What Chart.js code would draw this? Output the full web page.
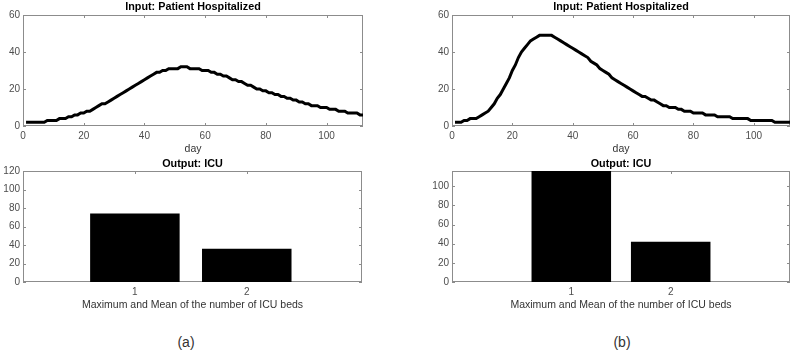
<!DOCTYPE html>
<html>
<head>
<meta charset="utf-8">
<script src="https://cdn.jsdelivr.net/npm/chart.js@4.4.1/dist/chart.umd.min.js"></script>
<style>
  html, body { margin: 0; padding: 0; background: #fff; overflow: hidden; }
  body { width: 793px; height: 352px; position: relative; font-family: "Liberation Sans", Arial, sans-serif; }
  canvas { position: absolute; }
  .cap { position: absolute; font-size: 14px; color: #333; transform: translate(-50%, -50%); }
</style>
</head>
<body>
<canvas id="lineA" width="380" height="160" style="left:0;top:0"></canvas>
<canvas id="lineB" width="364" height="160" style="left:429px;top:0"></canvas>
<canvas id="barA" width="380" height="160" style="left:0;top:155px"></canvas>
<canvas id="barB" width="364" height="160" style="left:429px;top:155px"></canvas>
<div class="cap" style="left:186px;top:342px">(a)</div>
<div class="cap" style="left:622px;top:342px">(b)</div>
<script>
// patients hospitalized per day (days 1..112)
const hospA = [
  2, 2, 2, 2, 2, 2, 2, 3, 3, 3,
  3, 4, 4, 4, 5, 5, 6, 6, 7, 7,
  8, 8, 9, 10, 11, 12, 12, 13, 14, 15,
  16, 17, 18, 19, 20, 21, 22, 23, 24, 25,
  26, 27, 28, 29, 29, 30, 30, 31, 31, 31,
  31, 32, 32, 32, 31, 31, 31, 31, 30, 30,
  30, 29, 29, 28, 28, 27, 27, 26, 25, 25,
  24, 24, 23, 22, 22, 21, 20, 20, 19, 19,
  18, 18, 17, 17, 16, 16, 15, 15, 14, 14,
  13, 13, 12, 12, 11, 11, 11, 10, 10, 10,
  9, 9, 9, 8, 8, 8, 7, 7, 7, 7,
  6, 6
];
const hospB = [
  2, 2, 2, 3, 3, 4, 4, 4, 5, 6,
  7, 8, 10, 12, 15, 17, 20, 23, 26, 30,
  33, 37, 40, 42, 44, 46, 47, 48, 49, 49,
  49, 49, 49, 48, 47, 46, 45, 44, 43, 42,
  41, 40, 39, 38, 37, 35, 34, 33, 31, 30,
  29, 28, 26, 25, 24, 23, 22, 21, 20, 19,
  18, 17, 16, 16, 15, 14, 14, 13, 12, 11,
  11, 10, 10, 10, 9, 9, 8, 8, 8, 7,
  7, 7, 7, 6, 6, 6, 6, 5, 5, 5,
  5, 5, 4, 4, 4, 4, 4, 4, 3, 3,
  3, 3, 3, 3, 3, 3, 2, 2, 2, 2,
  2, 2
];
const days = hospA.map((v, i) => i + 1);

// ICU beds: maximum and mean
const bedCats = [1, 2];
const icuA = [74, 36];
const icuB = [116, 42];

const dayTicks = [0, 20, 40, 60, 80, 100];
const hospTicks = [0, 20, 40, 60];
const icuTicksA = [0, 20, 40, 60, 80, 100, 120];
const icuTicksB = [0, 20, 40, 60, 80, 100];

const tickColor = '#4d4d4d';
const frameColor = '#8c8c8c';

Chart.defaults.font.family = '"Liberation Sans", Arial, sans-serif';
Chart.defaults.animation = false;

// matlab style box round the plot, with small ticks pointing inward
const boxFrame = {
  id: 'boxFrame',
  beforeDatasetsDraw(chart) {
    const { ctx, chartArea: a, scales } = chart;
    ctx.save();
    ctx.strokeStyle = frameColor;
    ctx.lineWidth = 1;
    ctx.strokeRect(a.left + 0.5, a.top + 0.5, a.width - 1, a.height - 1);
    ctx.beginPath();
    scales.x.ticks.forEach(t => {
      const px = Math.round(scales.x.getPixelForValue(t.value)) + 0.5;
      ctx.moveTo(px, a.bottom); ctx.lineTo(px, a.bottom - 3);
      ctx.moveTo(px, a.top); ctx.lineTo(px, a.top + 3);
    });
    scales.y.ticks.forEach(t => {
      const py = Math.round(scales.y.getPixelForValue(t.value)) + 0.5;
      ctx.moveTo(a.left, py); ctx.lineTo(a.left + 3, py);
      ctx.moveTo(a.right, py); ctx.lineTo(a.right - 3, py);
    });
    ctx.stroke();
    ctx.restore();
  }
};

function yAxis(max, tickVals) {
  return {
    type: 'linear', min: 0, max: max, bounds: 'data',
    grid: { display: false, drawTicks: false }, border: { display: false },
    ticks: { padding: 3, color: tickColor, font: { size: 10 } },
    afterBuildTicks: s => { s.ticks = tickVals.map(v => ({ value: v })); },
    afterFit: s => { s.width = 23; }
  };
}

function xAxis(min, max, tickVals, label, h, pb) {
  return {
    type: 'linear', min: min, max: max, offset: false, bounds: 'data',
    grid: { display: false, drawTicks: false, offset: false }, border: { display: false },
    ticks: { padding: 4, color: tickColor, font: { size: 10 }, maxRotation: 0 },
    afterBuildTicks: s => { s.ticks = tickVals.map(v => ({ value: v })); },
    afterFit: s => { s.height = h; },
    title: { display: true, text: label, color: '#333', font: { size: 10.5 }, padding: { top: 0, bottom: pb } }
  };
}

function titleOpts(text, pt, pb) {
  return {
    display: true, text: text, color: '#000', fullSize: false,
    font: { size: 10.8, weight: 'bold' }, padding: { top: pt, bottom: pb }
  };
}

function makeLine(id, values, padRight) {
  return new Chart(document.getElementById(id), {
    type: 'line',
    data: {
      datasets: [{
        data: values.map((v, i) => ({ x: days[i], y: v })),
        borderColor: '#000',
        borderWidth: 3,
        pointRadius: 0,
        tension: 0,
        fill: false
      }]
    },
    options: {
      responsive: false,
      layout: { padding: { left: 0, right: padRight, top: 0, bottom: 0 } },
      scales: {
        x: xAxis(0, 112, dayTicks, 'day', 34, 4.7),
        y: yAxis(60, hospTicks)
      },
      plugins: {
        legend: { display: false },
        tooltip: { enabled: false },
        title: titleOpts('Input: Patient Hospitalized', 0.7, 1.34)
      }
    },
    plugins: [boxFrame]
  });
}

function makeBar(id, values, xMin, xMax, yMax, yTicks, padRight) {
  return new Chart(document.getElementById(id), {
    type: 'bar',
    data: {
      datasets: [{
        data: values.map((v, i) => ({ x: bedCats[i], y: v })),
        backgroundColor: '#000',
        borderWidth: 0,
        categoryPercentage: 1,
        barPercentage: 0.8
      }]
    },
    options: {
      responsive: false,
      layout: { padding: { left: 0, right: padRight, top: 0, bottom: 0 } },
      scales: {
        x: xAxis(xMin, xMax, bedCats, 'Maximum and Mean of the number of ICU beds', 33, 3.5),
        y: yAxis(yMax, yTicks)
      },
      plugins: {
        legend: { display: false },
        tooltip: { enabled: false },
        title: titleOpts('Output: ICU', 2.5, 0.54)
      }
    },
    plugins: [boxFrame]
  });
}

makeLine('lineA', hospA, 17);
makeLine('lineB', hospB, 3);
makeBar('barA', icuA, 0, 3.03, 120, icuTicksA, 18);
makeBar('barB', icuB, -0.2, 3.2, 116, icuTicksB, 3);
</script>
</body>
</html>
